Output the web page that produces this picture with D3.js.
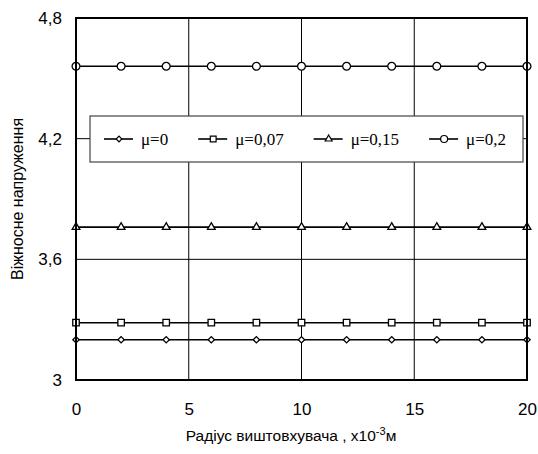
<!DOCTYPE html>
<html lang="uk">
<head>
<meta charset="UTF-8">
<title>Віжносне напруження</title>
<script src="https://d3js.org/d3.v7.min.js"></script>
<style>
    body { margin: 0; padding: 0; background: #fff; }
    svg { display: block; }
    .tick text { font-family: "Liberation Sans", Arial, sans-serif; font-size: 17px; fill: #000; }
</style>
</head>
<body>
<div id="chart"></div>
<script>
    // values
    const radius = [0, 2, 4, 6, 8, 10, 12, 14, 16, 18, 20];
    const mu0    = [3.2, 3.2, 3.2, 3.2, 3.2, 3.2, 3.2, 3.2, 3.2, 3.2, 3.2];
    const mu007  = [3.285, 3.285, 3.285, 3.285, 3.285, 3.285, 3.285, 3.285, 3.285, 3.285, 3.285];
    const mu015  = [3.76, 3.76, 3.76, 3.76, 3.76, 3.76, 3.76, 3.76, 3.76, 3.76, 3.76];
    const mu02   = [4.56, 4.56, 4.56, 4.56, 4.56, 4.56, 4.56, 4.56, 4.56, 4.56, 4.56];
    const seriesNames = ["μ=0", "μ=0,07", "μ=0,15", "μ=0,2"];
    const xTicks = [0, 5, 10, 15, 20];
    const yTicks = [3, 3.6, 4.2, 4.8];

    const W = 538, H = 454;
    const margin = { top: 18, right: 11, bottom: 74, left: 76 };
    const w = W - margin.left - margin.right;
    const h = H - margin.top - margin.bottom;

    const svg = d3.select("#chart").append("svg")
        .attr("width", W)
        .attr("height", H);

    const g = svg.append("g")
        .attr("transform", `translate(${margin.left},${margin.top})`);

    const x = d3.scaleLinear().domain([0, 20]).range([0, w]);
    const y = d3.scaleLinear().domain([3, 4.8]).range([h, 0]);

    const comma = d => String(d).replace(".", ",");

    // grid
    g.append("g").selectAll("line").data(xTicks.slice(1, -1)).join("line")
        .attr("x1", d => x(d)).attr("x2", d => x(d))
        .attr("y1", 0).attr("y2", h)
        .attr("stroke", "#000").attr("stroke-width", 1);
    g.append("g").selectAll("line").data(yTicks.slice(1, -1)).join("line")
        .attr("y1", d => y(d)).attr("y2", d => y(d))
        .attr("x1", 0).attr("x2", w)
        .attr("stroke", "#000").attr("stroke-width", 1);

    // axes (labels only, frame drawn later)
    const xAxis = g.append("g")
        .attr("transform", `translate(0,${h})`)
        .call(d3.axisBottom(x).tickValues(xTicks).tickSize(0).tickPadding(23).tickFormat(comma));
    xAxis.select(".domain").remove();

    const yAxis = g.append("g")
        .call(d3.axisLeft(y).tickValues(yTicks).tickSize(0).tickPadding(14).tickFormat(comma));
    yAxis.select(".domain").remove();

    // series
    const series = [
        { name: seriesNames[0], values: mu0,   sym: d3.symbolSquare,   size: 20, rot: 45 },
        { name: seriesNames[1], values: mu007, sym: d3.symbolSquare,   size: 42, rot: 0 },
        { name: seriesNames[2], values: mu015, sym: d3.symbolTriangle, size: 26, rot: 0 },
        { name: seriesNames[3], values: mu02,  sym: d3.symbolCircle,   size: 48, rot: 0 }
    ];

    const line = d3.line()
        .x((d, i) => x(radius[i]))
        .y(d => y(d));

    series.forEach(s => {
        g.append("path")
            .attr("d", line(s.values))
            .attr("fill", "none")
            .attr("stroke", "#000")
            .attr("stroke-width", 1.6);

        g.append("g").selectAll("path").data(s.values).join("path")
            .attr("d", d3.symbol(s.sym, s.size))
            .attr("transform", (d, i) => `translate(${x(radius[i])},${y(d)}) rotate(${s.rot})`)
            .attr("fill", "#fff")
            .attr("stroke", "#000")
            .attr("stroke-width", 1.3);
    });

    // legend
    const legend = svg.append("g").attr("transform", "translate(90,116)");
    legend.append("rect")
        .attr("width", 433).attr("height", 46)
        .attr("fill", "#fff")
        .attr("stroke", "#444").attr("stroke-width", 1.2);

    let lx = 14;
    series.forEach(s => {
        const item = legend.append("g").attr("transform", `translate(${lx},23)`);
        item.append("line")
            .attr("x1", 0).attr("x2", 29)
            .attr("stroke", "#000").attr("stroke-width", 1.6);
        item.append("path")
            .attr("d", d3.symbol(s.sym, s.size * 0.8))
            .attr("transform", `translate(15,0) rotate(${s.rot})`)
            .attr("fill", "#fff")
            .attr("stroke", "#000")
            .attr("stroke-width", 1.2);
        const t = item.append("text")
            .attr("x", 37).attr("y", 6)
            .attr("font-family", "'Liberation Serif', 'Times New Roman', serif")
            .attr("font-size", 17)
            .text(s.name);
        lx += 37 + t.node().getComputedTextLength() + 30;
    });

    // frame
    g.append("rect")
        .attr("width", w).attr("height", h)
        .attr("fill", "none")
        .attr("stroke", "#000").attr("stroke-width", 2);

    // axis titles
    const xt = svg.append("text")
        .attr("x", 291).attr("y", 441)
        .attr("text-anchor", "middle")
        .attr("font-family", "'Liberation Sans', Arial, sans-serif")
        .attr("font-size", 15.5);
    xt.append("tspan").text("Радіус виштовхувача , x10");
    xt.append("tspan").attr("dy", -6).attr("font-size", 11).text("-3");
    xt.append("tspan").attr("dy", 6).text("м");

    svg.append("text")
        .attr("transform", `translate(23,${margin.top + h / 2}) rotate(-90)`)
        .attr("text-anchor", "middle")
        .attr("font-family", "'Liberation Sans', Arial, sans-serif")
        .attr("font-size", 16)
        .text("Віжносне напруження");
</script>
</body>
</html>
